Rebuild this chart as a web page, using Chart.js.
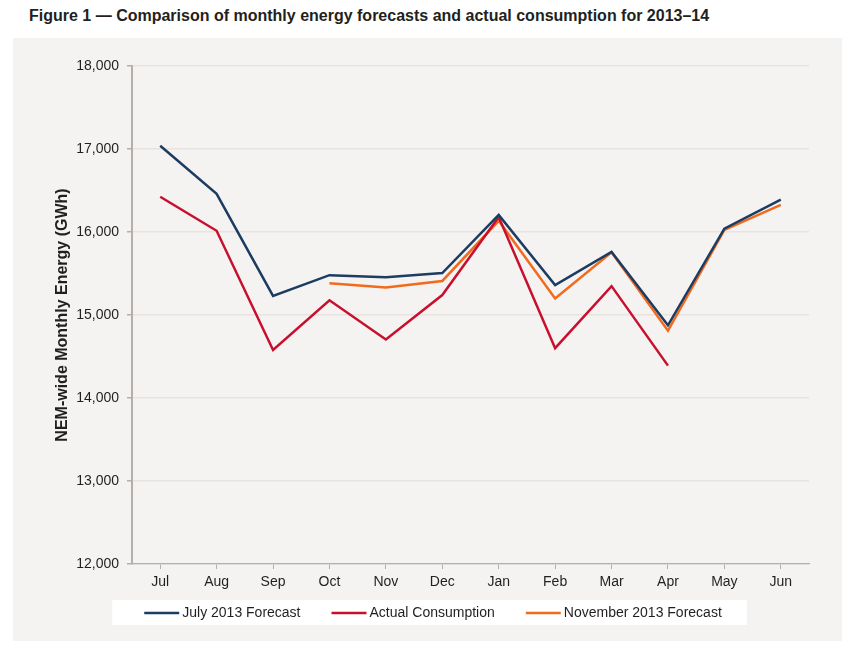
<!DOCTYPE html>
<html>
<head>
<meta charset="utf-8">
<script src="https://cdn.jsdelivr.net/npm/chart.js@4"></script>
<style>
  body { margin: 0; background: #ffffff; font-family: "Liberation Sans", Arial, sans-serif; }
  #titre { position: absolute; left: 29px; top: 7px; font-size: 16px; font-weight: bold; color: #231f20; }
  #painel { position: absolute; left: 13px; top: 38px; width: 829px; height: 603px; background: #f4f3f2; }
</style>
</head>
<body>
<div id="titre">Figure 1 — Comparison of monthly energy forecasts and actual consumption for 2013–14</div>
<div id="painel"><canvas id="grafico" width="829" height="603"></canvas></div>
<script>
let meses = ['Jul', 'Aug', 'Sep', 'Oct', 'Nov', 'Dec', 'Jan', 'Feb', 'Mar', 'Apr', 'May', 'Jun'];
let previsaoJulho = [17040, 16460, 15230, 15480, 15455, 15505, 16205, 15360, 15760, 14875, 16040, 16390];
let consumoReal = [16425, 16015, 14578, 15178, 14705, 15240, 16180, 14600, 15348, 14390, null, null];
let previsaoNovembro = [null, null, null, 15382, 15330, 15410, 16135, 15200, 15755, 14810, 16025, 16328];
let ticksY = [12000, 13000, 14000, 15000, 16000, 17000, 18000];

let corAzul = '#1d3c62';
let corVermelho = '#c8102e';
let corLaranja = '#f26a1b';
let fonte = '"Liberation Sans", Arial, sans-serif';

// legenda desenhada a mao, numa caixa branca, embaixo do grafico
let legendaManual = {
    id: 'legendaManual',
    afterDraw(chart) {
        let ctx = chart.ctx;
        let linha = 35, folga = 3, espaco = 31;
        let yCentro = 575;
        ctx.save();
        ctx.font = '14px ' + fonte;
        let itens = chart.data.datasets.map(ds => ({
            texto: ds.label,
            cor: ds.borderColor,
            largura: ctx.measureText(ds.label).width
        }));
        let total = 0;
        itens.forEach((it, i) => {
            total += linha + folga + it.largura + (i < itens.length - 1 ? espaco : 0);
        });
        let x = 420 - total / 2;

        ctx.fillStyle = '#ffffff';
        ctx.fillRect(x - 32, 562, total + 57, 25);

        itens.forEach(it => {
            ctx.strokeStyle = it.cor;
            ctx.lineWidth = 2.5;
            ctx.beginPath();
            ctx.moveTo(x, yCentro);
            ctx.lineTo(x + linha, yCentro);
            ctx.stroke();
            ctx.fillStyle = '#231f20';
            ctx.textBaseline = 'middle';
            ctx.textAlign = 'left';
            ctx.fillText(it.texto, x + linha + folga, yCentro);
            x += linha + folga + it.largura + espaco;
        });
        ctx.restore();
    }
};

function renderize() {
    let canvas = document.getElementById('grafico');

    let data = {
        labels: meses,
        datasets: [
            {
                label: 'July 2013 Forecast',
                data: previsaoJulho,
                borderColor: corAzul,
                borderWidth: 2.5,
                pointRadius: 0,
                tension: 0
            },
            {
                label: 'Actual Consumption',
                data: consumoReal,
                borderColor: corVermelho,
                borderWidth: 2.5,
                pointRadius: 0,
                tension: 0
            },
            {
                label: 'November 2013 Forecast',
                data: previsaoNovembro,
                borderColor: corLaranja,
                borderWidth: 2.5,
                pointRadius: 0,
                tension: 0
            }
        ]
    };

    let options = {
        responsive: false,
        animation: false,
        layout: { padding: { left: 40, right: 33, top: 28, bottom: 47 } },
        plugins: {
            tooltip: { enabled: false },
            legend: { display: false }
        },
        scales: {
            x: {
                offset: true,
                grid: { display: true, drawOnChartArea: false, tickLength: 5, color: '#b5afac' },
                border: { color: '#b5afac', width: 1.2 },
                ticks: {
                    color: '#231f20',
                    padding: 5,
                    font: { family: fonte, size: 14 }
                },
                afterFit(scale) { scale.height = 30; }
            },
            y: {
                min: 12000,
                max: 18000,
                afterBuildTicks(scale) { scale.ticks = ticksY.map(v => ({ value: v })); },
                grid: { color: '#e9e3e0', lineWidth: 1.5, tickLength: 5, tickColor: '#b5afac' },
                border: { color: '#b5afac', width: 2 },
                ticks: {
                    color: '#231f20',
                    padding: 8,
                    font: { family: fonte, size: 14 },
                    callback: v => v.toLocaleString('en-US')
                },
                title: {
                    display: true,
                    text: 'NEM-wide Monthly Energy (GWh)',
                    color: '#231f20',
                    padding: { top: 0, bottom: 0 },
                    font: { family: fonte, size: 16, weight: 'bold' }
                },
                afterFit(scale) { scale.width = 79; }
            }
        }
    };

    new Chart(canvas, {
        type: 'line',
        data: data,
        options: options,
        plugins: [legendaManual]
    });
}

window.onload = renderize;
</script>
</body>
</html>
